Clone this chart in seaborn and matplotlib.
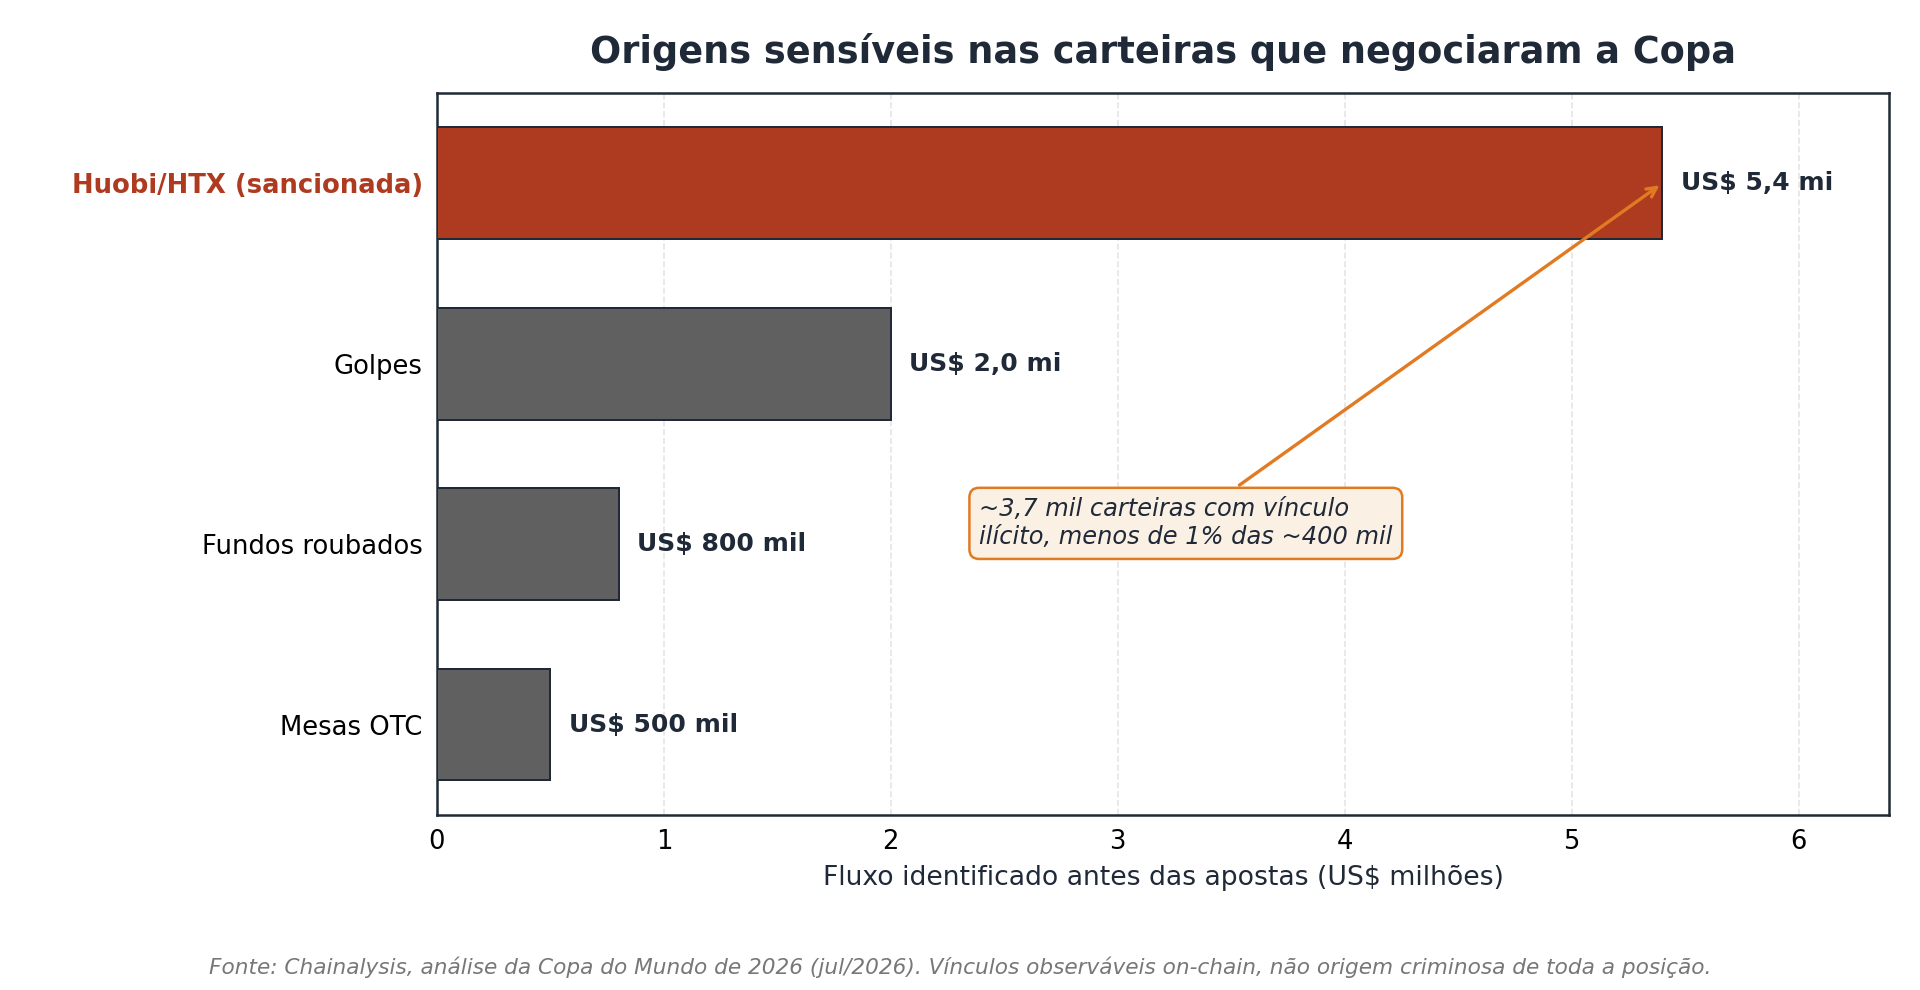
import pandas as pd
import matplotlib.pyplot as plt
import seaborn as sns

# data
categorias = ['Huobi/HTX (sancionada)', 'Golpes', 'Fundos roubados', 'Mesas OTC']
valores = [5.4, 2.0, 0.8, 0.5]
rotulos = ['US$ 5,4 mi', 'US$ 2,0 mi', 'US$ 800 mil', 'US$ 500 mil']
cores = ['#ae3a1f', '#606060', '#606060', '#606060']

df = pd.DataFrame({'origem': categorias, 'valor': valores})

escuro = '#1f2937'
laranja = '#e07b24'

sns.set_style('white')
plt.rcParams['font.family'] = ['DejaVu Sans']

fig, ax = plt.subplots(figsize=(16, 8.25), dpi=120)
fig.subplots_adjust(left=0.2276, right=0.984, top=0.906, bottom=0.177)

sns.barplot(data=df, x='valor', y='origem', hue='origem', palette=cores,
            legend=False, orient='h', width=0.62, edgecolor=escuro,
            linewidth=1.2, saturation=1, ax=ax, zorder=3)

# value labels
for i, (v, r) in enumerate(zip(valores, rotulos)):
    ax.text(v + 0.08, i, r, va='center', ha='left', fontsize=15,
            fontweight='bold', color=escuro, zorder=4)

ax.set_xlim(0, 6.4)
ax.set_ylim(3.5, -0.5)
ax.xaxis.grid(True, linestyle='--', color='#e5e5e5', linewidth=1, zorder=0)
ax.set_axisbelow(True)

for s in ax.spines.values():
    s.set_visible(True)
    s.set_color(escuro)
    s.set_linewidth(1.5)

ax.tick_params(axis='both', labelsize=15.5, length=5, width=1.2,
               color=escuro, labelcolor='black')
ax.set_ylabel('')
ax.set_xlabel('Fluxo identificado antes das apostas (US$ milhões)',
              fontsize=16, color=escuro, labelpad=6)

# highlight the sanctioned exchange label
lbl = ax.get_yticklabels()[0]
lbl.set_color('#ae3a1f')
lbl.set_fontweight('bold')

ax.set_title('Origens sensíveis nas carteiras que negociaram a Copa',
             fontsize=22, fontweight='bold', color=escuro, pad=18)

ax.annotate('~3,7 mil carteiras com vínculo\nilícito, menos de 1% das ~400 mil',
            xy=(5.4, 0.0), xytext=(3.30, 1.885),
            ha='center', va='center', multialignment='left',
            fontsize=14.5, fontstyle='italic', color=escuro,
            bbox=dict(boxstyle='round,pad=0.4', fc='#faf0e4', ec=laranja, lw=1.5),
            arrowprops=dict(arrowstyle='->', color=laranja, lw=2), zorder=5)

fig.text(0.5, 0.023,
         'Fonte: Chainalysis, análise da Copa do Mundo de 2026 (jul/2026). '
         'Vínculos observáveis on-chain, não origem criminosa de toda a posição.',
         ha='center', va='center', fontsize=13, fontstyle='italic', color='#777777')

fig.savefig('out.png', dpi=120)
